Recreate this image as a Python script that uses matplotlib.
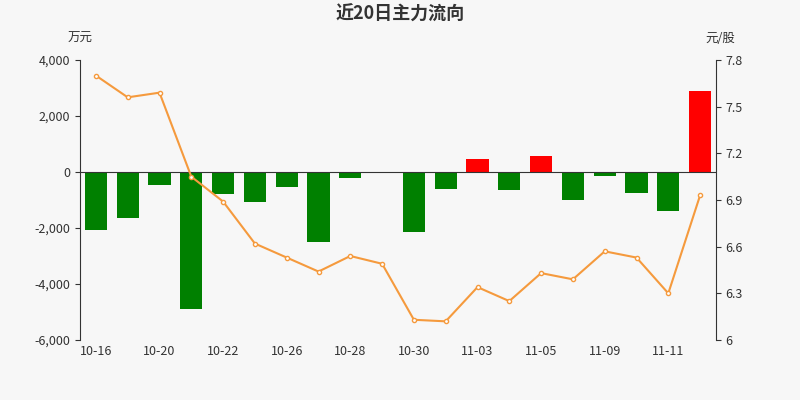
import matplotlib.pyplot as plt

plt.rcParams['font.family'] = ['Noto Sans CJK SC', 'DejaVu Sans']

dates = ["10-16", "10-19", "10-20", "10-21", "10-22", "10-23", "10-26", "10-27", "10-28", "10-29",
         "10-30", "11-02", "11-03", "11-04", "11-05", "11-06", "11-09", "11-10", "11-11", "11-12"]
flow = [-2070, -1640, -460, -4890, -790, -1070, -540, -2500, -210, -30,
        -2140, -610, 460, -640, 570, -1000, -140, -750, -1390, 2890]
price = [7.70, 7.56, 7.59, 7.05, 6.89, 6.62, 6.53, 6.44, 6.54, 6.49,
         6.13, 6.12, 6.34, 6.25, 6.43, 6.39, 6.57, 6.53, 6.30, 6.93]

bg = "#f7f7f7"
fig = plt.figure(figsize=(8, 4), dpi=100, facecolor=bg)
ax = fig.add_axes([0.1, 0.15, 0.795, 0.7], facecolor=bg)
x = list(range(len(dates)))
colors = ["red" if v > 0 else "green" for v in flow]
ax.bar(x, flow, width=0.7, color=colors)
ax.set_ylim(-6000, 4000)
ax.set_xlim(-0.5, len(dates) - 0.5)
ax.set_yticks(range(-6000, 4001, 2000))
ax.yaxis.set_major_formatter(plt.FuncFormatter(lambda v, p: f"{int(v):,}"))
ax.set_xticks(x[::2])
ax.set_xticklabels(dates[::2])
ax.axhline(0, color="#333333", lw=0.8)
for s in ["top", "right", "bottom"]:
    ax.spines[s].set_visible(False)
ax.spines["left"].set_color("#333333")
ax.tick_params(labelsize=9, colors="#333333")
ax.tick_params(axis="x", length=0)

ax2 = ax.twinx()
ax2.plot(x, price, color="#f59a3d", lw=1.5, marker="o", markersize=3,
         markerfacecolor="white", markeredgecolor="#f59a3d")
ax2.set_ylim(6, 7.8)
ax2.set_yticks([6, 6.3, 6.6, 6.9, 7.2, 7.5, 7.8])
ax2.set_yticklabels(["6", "6.3", "6.6", "6.9", "7.2", "7.5", "7.8"])
for s in ["top", "left", "bottom"]:
    ax2.spines[s].set_visible(False)
ax2.spines["right"].set_color("#333333")
ax2.tick_params(labelsize=9, colors="#333333")

fig.text(0.5, 0.965, "近20日主力流向", ha="center", va="center", fontsize=13,
         fontweight="bold", color="#333333")
fig.text(0.1, 0.905, "万元", ha="center", va="center", fontsize=9, color="#333333")
fig.text(0.9, 0.905, "元/股", ha="center", va="center", fontsize=9, color="#333333")

fig.savefig("out.png", facecolor=bg)
